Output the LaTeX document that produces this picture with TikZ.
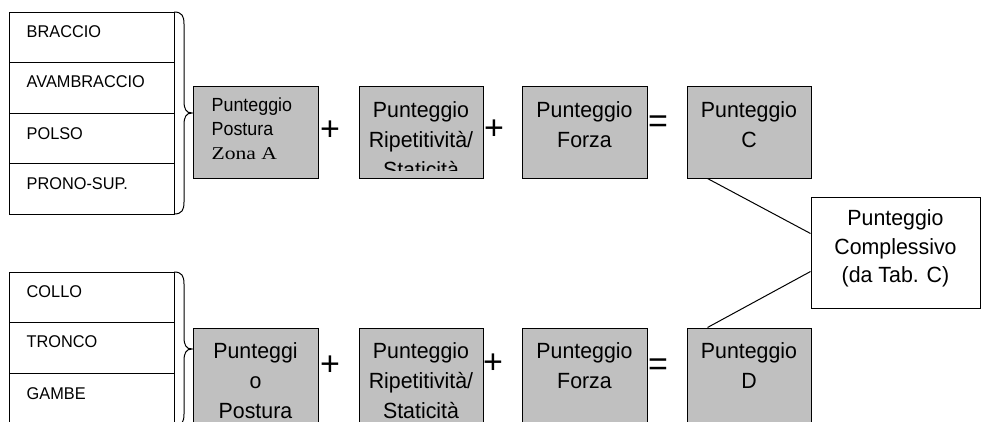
\documentclass[tikz,border=0pt]{standalone}
\usepackage{fontspec}
\setmainfont{Liberation Sans}
\newfontfamily\bigsans[FakeStretch=0.97]{Liberation Sans}
\newfontfamily\labelsans[FakeStretch=0.96]{Liberation Sans}
\newfontfamily\smallsans[FakeStretch=0.94]{Liberation Sans}
\newfontfamily\zonaserif[FakeStretch=1.2]{Liberation Serif}
\usetikzlibrary{calc}
\definecolor{boxgray}{RGB}{192,192,192}
\tikzset{
 graybox/.style={draw, line width=1pt, fill=boxgray, minimum width=124pt, minimum height=92pt, inner sep=0pt},
 whitebox/.style={draw, line width=1pt, fill=white, minimum width=169pt, minimum height=111pt, inner sep=0pt},
 rowbox/.style={draw, line width=1pt, minimum width=165pt, minimum height=50.5pt, inner sep=0pt},
 rowlabel/.style={anchor=base west, inner sep=0pt, font=\labelsans\fontsize{17}{19}\selectfont},
 boxtext/.style={anchor=north, inner sep=0pt, align=center, font=\bigsans\fontsize{22}{30}\selectfont},
 opsign/.style={inner sep=0pt, font=\fontsize{34}{34}\selectfont},
 link/.style={line width=1pt},
 bracepath/.style={line width=1pt},
}
\begin{document}
\begin{tikzpicture}[x=1pt,y=-1pt]
\clip (0,0) rectangle (983,421);
\fill[white] (0,0) rectangle (983,421);

% ---------- top stack ----------
\node[rowbox] (r1) at (91.5,37.25) {};
\node[rowbox] (r2) at (91.5,87.75) {};
\node[rowbox] (r3) at (91.5,138.25) {};
\node[rowbox] (r4) at (91.5,188.75) {};
\node[rowlabel] (l1) at ($(r1.north west)+(18,25.5)$) {BRACCIO};
\node[rowlabel] (l2) at ($(r2.north west)+(18,25.5)$) {AVAMBRACCIO};
\node[rowlabel] (l3) at ($(r3.north west)+(18,26.5)$) {POLSO};
\node[rowlabel] (l4) at ($(r4.north west)+(18,26.5)$) {PRONO-SUP.};
\draw[bracepath] (174,12) .. controls (182,12) and (184,16) .. (184,24) -- (184,101)
  .. controls (184,109) and (186,113) .. (192,113)
  .. controls (186,113) and (184,117) .. (184,125) -- (184,202)
  .. controls (184,210) and (182,214) .. (174,214);

% ---------- bottom stack ----------
\node[rowbox] (s1) at (91.5,297.25) {};
\node[rowbox] (s2) at (91.5,347.75) {};
\node[rowbox] (s3) at (91.5,398.25) {};
\node[rowlabel] (m1) at ($(s1.north west)+(18,25.5)$) {COLLO};
\node[rowlabel] (m2) at ($(s2.north west)+(18,25.5)$) {TRONCO};
\node[rowlabel] (m3) at ($(s3.north west)+(18,26.5)$) {GAMBE};
\draw[bracepath] (174,272) .. controls (182,272) and (184,276) .. (184,284) -- (184,337)
  .. controls (184,345) and (186,349) .. (192,349)
  .. controls (186,349) and (184,353) .. (184,361) -- (184,414)
  .. controls (184,422) and (182,426) .. (174,426);

% ---------- top row ----------
\node[graybox, minimum width=125pt] (a1) at (255.5,132) {};
\node[graybox] (a2) at (421,132) {};
\node[graybox, minimum width=125pt] (a3) at (584.5,132) {};
\node[graybox] (c) at (749,132) {};
\node[anchor=north west, inner sep=0pt, align=left, font=\smallsans\fontsize{19}{24}\selectfont]
  (ta1) at ($(a1.north west)+(19,12.4)$) {Punteggio\\Postura\\{\zonaserif\fontsize{18}{24}\selectfont Zona A}};
\begin{scope}
\clip (359,86) rectangle (483,170);
\node[boxtext] (ta2) at ($(a2.north)+(0,15.5)$) {Punteggio\\Ripetitività/\\Staticità};
\end{scope}
\node[boxtext] (ta3) at ($(a3.north)+(0,15.5)$) {Punteggio\\Forza};
\node[boxtext] (tc) at ($(c.north)+(0,15.5)$) {Punteggio\\C};
\node[opsign] (p1) at (330,131) {+};
\node[opsign] (p2) at (494,130) {+};
\node[opsign] (e1) at (658,124) {=};

% ---------- bottom row ----------
\node[graybox, minimum width=125pt, minimum height=96pt] (b1) at (255.5,376) {};
\node[graybox, minimum height=96pt] (b2) at (421,376) {};
\node[graybox, minimum width=125pt, minimum height=96pt] (b3) at (584.5,376) {};
\node[graybox, minimum height=96pt] (d) at (749,376) {};
\node[boxtext] (tb1) at ($(b1.north)+(0,14.5)$) {Punteggi\\o\\Postura};
\node[boxtext] (tb2) at ($(b2.north)+(0,14.5)$) {Punteggio\\Ripetitività/\\Staticità};
\node[boxtext] (tb3) at ($(b3.north)+(0,14.5)$) {Punteggio\\Forza};
\node[boxtext] (td) at ($(d.north)+(0,14.5)$) {Punteggio\\D};
\node[opsign] (q1) at (330,366) {+};
\node[opsign] (q2) at (493,364) {+};
\node[opsign] (e2) at (658,367) {=};

% ---------- total ----------
\node[whitebox] (tot) at (895.5,252.5) {};
\node[boxtext, font=\bigsans\fontsize{22}{28.5}\selectfont] (ttot) at ($(tot.north)+(0,13)$) {Punteggio\\Complessivo\\(da Tab. C)};

\coordinate (cfoot) at ($(c.south west)+(21,0)$);
\coordinate (dtop) at ($(d.north west)+(21,0)$);
\coordinate (tin1) at ($(tot.north west)+(0,37)$);
\coordinate (tin2) at ($(tot.north west)+(0,75)$);
\draw[link] (cfoot) -- (tin1);
\draw[link] (dtop) -- (tin2);
\end{tikzpicture}
\end{document}
